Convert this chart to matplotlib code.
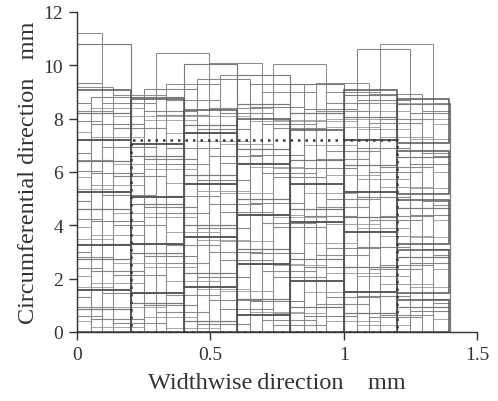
import numpy as np
import matplotlib
matplotlib.use("Agg")
import matplotlib.pyplot as plt

plt.rcParams['font.family'] = ['Liberation Serif', 'DejaVu Serif']

# column pitch of the blocks and the right edge of the pattern (mm)
pitch = 0.2
x_max = 1.4

# heavy outline set, offset 0
bold_left = [0.0, 0.2, 0.4, 0.6, 0.8, 1.0]
bold_edges = [
    [0, 1.56, 3.25, 5.25, 7.2, 9.07],
    [0, 1.44, 3.31, 5.06, 7.05, 8.75],
    [0, 1.69, 3.57, 5.56, 7.44, 8.31],
    [0, 0.62, 2.56, 4.37, 6.31, 7.97],
    [0, 1.9, 4.12, 5.56, 7.56],
    [0, 1.51, 3.76, 5.26, 7.2, 9.06],
]
# last heavy column, separate boxes with gaps
edge_col_left = 1.2
edge_col_bottoms = [0, 1.44, 3.31, 5.18, 7.09]
edge_col_tops = [1.19, 3.06, 4.93, 6.8, 8.74]

# thinner sets (left edge of each column, block edges in mm)
b_left = [0.0, 0.2, 0.4, 0.6, 0.8, 1.0, 1.2]
b_edges = [
    [0, 0.85, 2.75, 4.6, 6.4, 8.2, 10.8],
    [0, 1.1, 2.95, 4.8, 6.6, 8.79],
    [0, 0.4, 2.2, 4.0, 5.9, 7.75, 10.06],
    [0, 1.25, 3.1, 5.0, 6.85, 8.55, 9.65],
    [0, 0.95, 2.75, 4.6, 6.45, 8.2, 9.3],
    [0, 0.7, 2.45, 4.3, 6.25, 8.05, 8.9],
    [0, 0.95, 2.8, 4.65, 6.55, 8.54],
]

c_left = [-0.15, 0.05, 0.25, 0.45, 0.65, 0.85, 1.05, 1.25]
c_edges = [
    [0, 1.3, 3.0, 4.9, 6.7, 8.6],
    [0, 0.5, 2.3, 4.15, 5.95, 7.8, 8.79],
    [0, 1.0, 2.85, 4.7, 6.5, 8.3, 9.12],
    [0, 0.3, 2.05, 3.9, 5.7, 7.6, 9.5],
    [0, 1.15, 2.95, 4.85, 6.65, 8.45, 9.3],
    [0, 0.6, 2.45, 4.35, 6.15, 8.37],
    [0, 1.35, 3.2, 5.05, 6.9, 8.7, 10.6],
    [0, 0.8, 2.6, 4.4, 6.3, 8.2],
]

d_left = [-0.106, 0.094, 0.294, 0.494, 0.694, 0.894, 1.094, 1.294]
d_edges = [
    [0, 0.6, 2.4, 4.25, 6.05, 7.9, 9.35, 11.2],
    [0, 1.45, 3.3, 5.15, 6.95, 8.6],
    [0, 0.75, 2.6, 4.45, 6.3, 8.15, 10.45],
    [0, 1.2, 3.0, 4.8, 6.6, 8.4, 10.1],
    [0, 0.45, 2.3, 4.1, 5.95, 7.8, 9.0],
    [0, 1.05, 2.9, 4.7, 6.5, 8.3, 9.32],
    [0, 0.55, 2.35, 4.2, 6.0, 7.85, 8.91],
    [0, 1.25, 3.1, 4.9, 6.7, 8.3],
]

e_left = [-0.065, 0.135, 0.335, 0.535, 0.735, 0.935, 1.135, 1.335]
e_edges = [
    [0, 0.95, 2.8, 4.6, 6.45, 8.3, 9.2],
    [0, 0.35, 2.15, 4.0, 5.85, 7.65, 8.9],
    [0, 1.4, 3.25, 5.1, 6.9, 8.7, 9.28],
    [0, 0.85, 2.7, 4.5, 6.35, 8.2, 9.65],
    [0, 0.25, 2.05, 3.95, 5.8, 7.65, 10.05],
    [0, 1.3, 3.15, 5.0, 6.8, 8.6, 9.0],
    [0, 0.65, 2.5, 4.35, 6.2, 8.0, 10.8],
    [0, 1.1, 2.9, 4.75, 6.6, 8.6],
]

f_left = [-0.15, 0.05, 0.25, 0.45, 0.65, 0.85, 1.05, 1.25]
f_edges = [
    [0, 0.4, 2.1, 3.95, 5.8, 7.5],
    [0, 0.2, 1.85, 3.65, 5.5, 7.3, 8.4],
    [0, 0.55, 2.45, 4.3, 6.1, 7.95],
    [0, 1.6, 3.45, 5.3, 7.15, 8.1],
    [0, 0.75, 2.55, 4.4, 6.2, 7.9],
    [0, 1.5, 3.35, 5.2, 7.0, 7.9],
    [0, 0.25, 2.1, 3.9, 5.75, 7.6, 8.3],
    [0, 1.7, 3.55, 5.4, 7.25, 8.0],
]

g_left = [-0.065, 0.135, 0.335, 0.535, 0.735, 0.935, 1.135, 1.335]
g_edges = [
    [0, 1.7, 3.5, 5.35, 7.2, 8.2],
    [0, 0.95, 2.6, 4.45, 6.3, 8.1],
    [0, 0.15, 1.9, 3.75, 5.6, 7.45, 8.1],
    [0, 1.55, 3.4, 5.2, 7.05, 8.4],
    [0, 0.7, 2.5, 4.3, 6.15, 7.95],
    [0, 0.4, 2.2, 4.05, 5.9, 7.7, 8.0],
    [0, 1.8, 3.6, 5.45, 7.3, 8.6],
    [0, 0.5, 2.35, 4.2, 6.0, 7.8],
]

# dotted reference box
box_left = 0.2
box_right = 1.2
box_top = 7.2


def draw_set(ax, lefts, edges, color, lw, ls='-'):
    for left, col in zip(lefts, edges):
        x0 = max(left, 0.0)
        x1 = min(left + pitch, x_max)
        col = np.array(col)
        ax.bar(x0, np.diff(col), width=x1 - x0, bottom=col[:-1], align='edge',
               fill=False, edgecolor=color, linewidth=lw, linestyle=ls)


fig = plt.figure(figsize=(4.98, 4.02), dpi=100)
ax = fig.add_axes([0.155, 0.172, 0.803, 0.796])

draw_set(ax, f_left, f_edges, '#a8a8a8', 0.7)
draw_set(ax, g_left, g_edges, '#a8a8a8', 0.7)
draw_set(ax, d_left, d_edges, '#8c8c8c', 0.75)
draw_set(ax, e_left, e_edges, '#8c8c8c', 0.75)
draw_set(ax, c_left, c_edges, '#858585', 0.75)
draw_set(ax, b_left, b_edges, '#7a7a7a', 0.8)
draw_set(ax, bold_left, bold_edges, '#555555', 1.1)
ax.bar(edge_col_left, np.array(edge_col_tops) - np.array(edge_col_bottoms),
       width=0.195, bottom=edge_col_bottoms, align='edge', fill=False,
       edgecolor='#555555', linewidth=1.1)

ax.bar(box_left, box_top, width=box_right - box_left, align='edge', fill=False,
       edgecolor='#3a3a3a', linewidth=1.8, linestyle=(0, (1, 2)))

ax.set_xlim(0, 1.5)
ax.set_ylim(0, 12)
ax.set_xticks([0, 0.5, 1, 1.5])
ax.set_xticklabels(['0', '0.5', '1', '1.5'])
ax.set_yticks(range(0, 13, 2))
for s in ['top', 'right']:
    ax.spines[s].set_visible(False)
for s in ['left', 'bottom']:
    ax.spines[s].set_color('#333333')
    ax.spines[s].set_linewidth(1.0)
ax.tick_params(direction='out', length=6, width=1.0, colors='#333333',
               labelsize=14, labelcolor='#333333', pad=4)
ax.set_xlabel('Widthwise\u2009direction    mm', fontsize=17.5, color='#333333', labelpad=7)
ax.set_ylabel('Circumferential direction   mm', fontsize=17.5, color='#333333', labelpad=3)

plt.savefig('out.png', dpi=100)
plt.close()
